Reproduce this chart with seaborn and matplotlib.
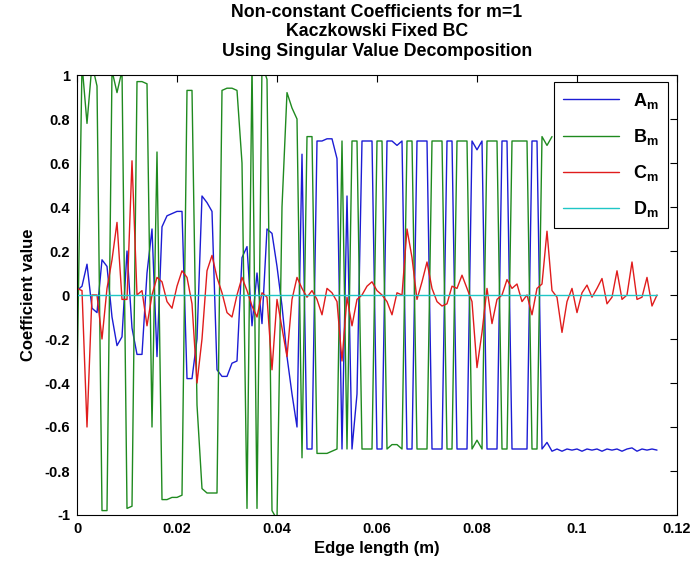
import numpy as np
import pandas as pd
import matplotlib
matplotlib.use("Agg")
import matplotlib.pyplot as plt
from matplotlib.lines import Line2D
import seaborn as sns

nan = np.nan

# ---- data (sampled every 0.001 m) ----
edge_length = np.round(np.arange(117) * 0.001, 3)

A_m = [
    0.02, 0.04, 0.14, -0.06, -0.08, 0.16, 0.13, -0.10, -0.23, -0.19,
    0.20, -0.15, -0.27, -0.27, 0.10, 0.30, -0.28, 0.31, 0.36, 0.37,
    0.38, 0.38, -0.38, -0.38, -0.20, 0.45, 0.42, 0.38, -0.34, -0.37,
    -0.37, -0.31, -0.30, 0.17, 0.22, -0.14, 0.10, -0.13, 0.30, 0.28,
    0.13, -0.05, -0.28, -0.45, -0.60, 0.64, -0.70, -0.70, 0.70, 0.70,
    0.71, 0.71, 0.62, -0.70, 0.45, -0.70, -0.45, 0.70, 0.70, 0.70,
    -0.70, -0.70, 0.70, 0.70, 0.68, 0.70, -0.70, -0.70, 0.70, 0.70,
    0.70, -0.70, -0.70, -0.70, 0.70, 0.70, -0.70, -0.70, -0.70, 0.70,
    0.66, 0.70, -0.70, -0.70, -0.70, 0.70, 0.70, -0.70, -0.70, -0.70,
    -0.70, 0.70, 0.70, -0.70, -0.67, -0.71, -0.70, -0.71, -0.70, -0.705,
    -0.70, -0.71, -0.70, -0.705, -0.70, -0.71, -0.70, -0.705, -0.70, -0.71,
    -0.70, -0.695, -0.71, -0.70, -0.705, -0.70, -0.705,
]

B_m = [
    -0.40, 1.05, 0.78, 1.05, 0.95, -0.98, -0.98, 1.02, 0.92, 1.02,
    -0.97, -0.96, 0.97, 0.97, 0.96, -0.60, 0.65, -0.93, -0.93, -0.92,
    -0.92, -0.91, 0.93, 0.93, -0.50, -0.88, -0.90, -0.90, -0.90, 0.93,
    0.94, 0.94, 0.93, 0.60, -0.97, 1.05, -0.97, 1.05, 0.98, -0.98,
    -1.02, 0.40, 0.92, 0.85, 0.80, -0.74, 0.72, 0.72, -0.72, -0.72,
    -0.72, -0.71, -0.70, 0.70, -0.70, 0.70, 0.70, -0.70, -0.70, -0.70,
    0.70, 0.70, -0.70, -0.68, -0.68, -0.70, 0.70, 0.70, -0.70, -0.70,
    -0.70, 0.70, 0.70, 0.70, -0.70, -0.70, 0.70, 0.70, 0.70, -0.70,
    -0.66, -0.70, 0.70, 0.70, 0.70, -0.70, -0.70, 0.70, 0.70, 0.70,
    0.70, -0.70, -0.70, 0.72, 0.68, 0.72, nan, nan, nan, nan,
    nan, nan, nan, nan, nan, nan, nan, nan, nan, nan,
    nan, nan, nan, nan, nan, nan, nan,
]

C_m = [
    0.03, 0.02, -0.60, 0.00, 0.00, -0.20, 0.03, 0.16, 0.33, -0.02,
    -0.02, 0.61, 0.00, 0.02, -0.14, 0.00, 0.08, 0.06, -0.03, -0.06,
    0.04, 0.11, 0.08, -0.04, -0.40, -0.20, 0.11, 0.18, 0.08, 0.01,
    -0.08, -0.10, 0.00, 0.08, 0.02, -0.05, -0.10, 0.01, -0.01, -0.34,
    -0.02, -0.15, -0.28, -0.02, 0.08, 0.03, -0.01, 0.02, -0.02, -0.09,
    0.03, 0.01, -0.03, -0.30, -0.01, -0.14, -0.02, 0.00, 0.04, 0.06,
    0.02, 0.00, -0.03, -0.09, 0.01, 0.00, 0.30, 0.17, -0.02, 0.06,
    0.15, 0.03, -0.03, -0.05, -0.04, 0.04, 0.03, 0.09, 0.03, -0.03,
    -0.33, -0.17, 0.03, -0.13, -0.02, 0.00, 0.07, 0.03, 0.05, -0.03,
    0.00, -0.09, 0.03, 0.05, 0.29, 0.02, -0.01, -0.17, -0.03, 0.03,
    -0.08, 0.01, 0.045, -0.01, 0.03, 0.075, -0.04, -0.01, 0.11, -0.02,
    0.00, 0.15, -0.02, -0.01, 0.08, -0.05, 0.00,
]

D_m = [
    0.0, 0.0, 0.0, 0.0, 0.0, 0.0, 0.0, 0.0, 0.0, 0.0,
    0.0, 0.0, 0.0, 0.0, 0.0, 0.0, 0.0, 0.0, 0.0, 0.0,
    0.0, 0.0, 0.0, 0.0, 0.0, 0.0, 0.0, 0.0, 0.0, 0.0,
    0.0, 0.0, 0.0, 0.0, 0.0, 0.0, 0.0, 0.0, 0.0, 0.0,
    0.0, 0.0, 0.0, 0.0, 0.0, 0.0, 0.0, 0.0, 0.0, 0.0,
    0.0, 0.0, 0.0, 0.0, 0.0, 0.0, 0.0, 0.0, 0.0, 0.0,
    0.0, 0.0, 0.0, 0.0, 0.0, 0.0, 0.0, 0.0, 0.0, 0.0,
    0.0, 0.0, 0.0, 0.0, 0.0, 0.0, 0.0, 0.0, 0.0, 0.0,
    0.0, 0.0, 0.0, 0.0, 0.0, 0.0, 0.0, 0.0, 0.0, 0.0,
    0.0, 0.0, 0.0, 0.0, 0.0, 0.0, 0.0, 0.0, 0.0, 0.0,
    0.0, 0.0, 0.0, 0.0, 0.0, 0.0, 0.0, 0.0, 0.0, 0.0,
    0.0, 0.0, 0.0, 0.0, 0.0, 0.0, 0.0,
]

series_names = ["A", "B", "C", "D"]
series_labels = [r"$\mathbf{A_m}$", r"$\mathbf{B_m}$", r"$\mathbf{C_m}$", r"$\mathbf{D_m}$"]
series_colors = ["#1c1cd4", "#1f8a1f", "#e01c1c", "#1fc6c6"]

x_ticks = [0, 0.02, 0.04, 0.06, 0.08, 0.10, 0.12]
x_tick_labels = ["0", "0.02", "0.04", "0.06", "0.08", "0.1", "0.12"]
y_ticks = [-1, -0.8, -0.6, -0.4, -0.2, 0, 0.2, 0.4, 0.6, 0.8, 1]
y_tick_labels = ["-1", "-0.8", "-0.6", "-0.4", "-0.2", "0", "0.2", "0.4", "0.6", "0.8", "1"]

title_text = "Non-constant Coefficients for m=1\nKaczkowski Fixed BC\nUsing Singular Value Decomposition"

# ---- build frame ----
frames = []
for name, vals in zip(series_names, [A_m, B_m, C_m, D_m]):
    frames.append(pd.DataFrame({"x": edge_length, "value": vals, "series": name}))
df = pd.concat(frames, ignore_index=True)

# ---- style ----
sns.set_theme(style="white")
plt.rcParams["font.family"] = ["Liberation Sans", "DejaVu Sans"]
plt.rcParams["font.weight"] = "bold"
plt.rcParams["text.color"] = "black"
plt.rcParams["axes.labelcolor"] = "black"
plt.rcParams["mathtext.fontset"] = "custom"
plt.rcParams["mathtext.bf"] = "Liberation Sans:bold"
plt.rcParams["mathtext.rm"] = "Liberation Sans:bold"

fam = ["Liberation Sans", "DejaVu Sans"]

fig = plt.figure(figsize=(6.91, 5.70), dpi=100)
ax = fig.add_axes([77 / 691, 1 - 515 / 570, 600 / 691, 440 / 570])

sns.lineplot(
    data=df, x="x", y="value", hue="series",
    palette=dict(zip(series_names, series_colors)),
    estimator=None, sort=False, linewidth=1.0, legend=False, ax=ax,
)

ax.set_xlim(0, 0.12)
ax.set_ylim(-1, 1)
ax.set_xticks(x_ticks)
ax.set_xticklabels(x_tick_labels)
ax.set_yticks(y_ticks)
ax.set_yticklabels(y_tick_labels)
ax.tick_params(direction="in", top=True, right=True, length=5, width=0.8,
               labelsize=10.5, colors="black", pad=5)
for lbl in ax.get_xticklabels() + ax.get_yticklabels():
    lbl.set_fontweight("bold")
for sp in ax.spines.values():
    sp.set_color("black")
    sp.set_linewidth(0.8)

ax.set_xlabel("Edge length (m)", fontsize=12, fontweight="bold", labelpad=4,
              family=fam, color="black")
ax.set_ylabel("Coefficient value", fontsize=12, fontweight="bold", labelpad=6,
              family=fam, color="black")
ax.set_title(title_text, fontsize=12.8, fontweight="bold", pad=14, linespacing=1.17,
             family=fam, color="black")

handles = [Line2D([0], [0], color=c, lw=1.0) for c in series_colors]
leg = ax.legend(handles, series_labels, loc="upper right", bbox_to_anchor=(0.985, 0.985),
                borderaxespad=0.0,
                fontsize=13, handlelength=3.1, labelspacing=0.9, borderpad=0.5,
                handletextpad=0.8, fancybox=False, framealpha=1, edgecolor="black")
leg.get_frame().set_linewidth(0.8)
for t in leg.get_texts():
    t.set_color("black")

fig.savefig("out.png", dpi=100)
